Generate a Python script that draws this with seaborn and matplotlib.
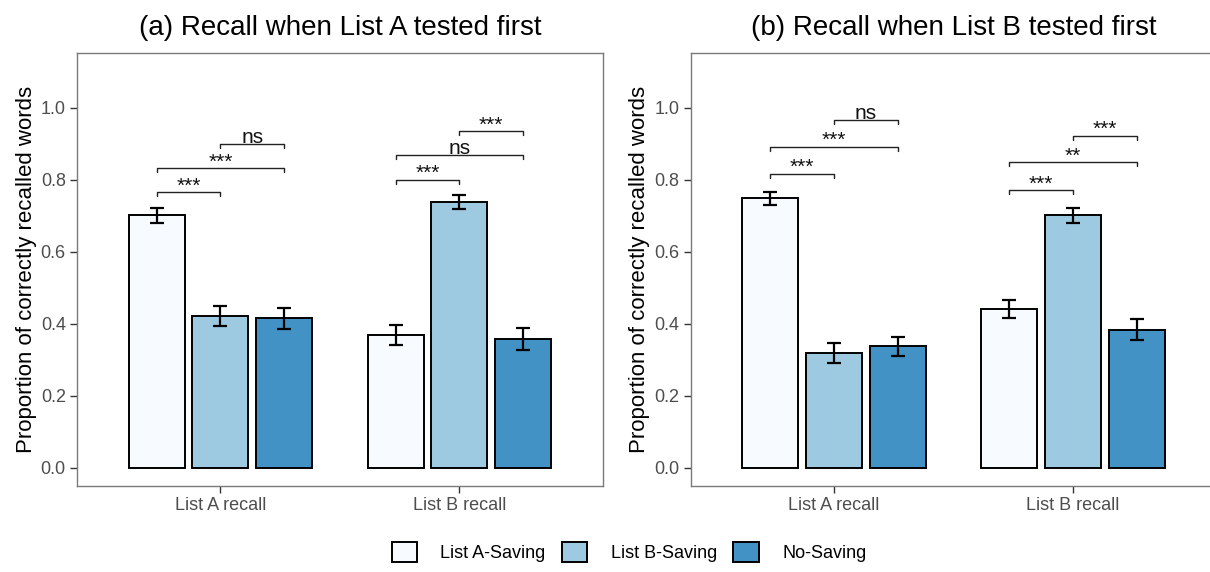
import matplotlib
matplotlib.use("Agg")
import matplotlib.pyplot as plt
import matplotlib.patches as mpatches
import numpy as np
import pandas as pd
import seaborn as sns

# categories
recall_types = ["List A recall", "List B recall"]
groups = ["List A-Saving", "List B-Saving", "No-Saving"]
colors = ["#F7FBFF", "#9ECAE1", "#4292C6"]

# (a) List A tested first: order = recall type x group
a_mean = [0.701, 0.422, 0.415, 0.369, 0.739, 0.357]
a_se = [0.020, 0.028, 0.030, 0.027, 0.020, 0.030]
# (b) List B tested first
b_mean = [0.748, 0.318, 0.337, 0.441, 0.701, 0.384]
b_se = [0.019, 0.028, 0.027, 0.026, 0.021, 0.028]

# significance brackets: (recall index, bar i, bar j, height, label)
a_sig = [(0, 0, 1, 0.765, "***"), (0, 0, 2, 0.832, "***"), (0, 1, 2, 0.899, "ns"),
         (1, 0, 1, 0.800, "***"), (1, 0, 2, 0.869, "ns"), (1, 1, 2, 0.934, "***")]
b_sig = [(0, 0, 1, 0.816, "***"), (0, 0, 2, 0.892, "***"), (0, 1, 2, 0.967, "ns"),
         (1, 0, 1, 0.771, "***"), (1, 0, 2, 0.848, "**"), (1, 1, 2, 0.922, "***")]

sns.set_style("white")
plt.rcParams['font.family'] = ['Liberation Sans', 'DejaVu Sans']
plt.rcParams['text.color'] = 'black'
plt.rcParams['axes.labelcolor'] = 'black'

fig = plt.figure(figsize=(12.1, 5.72), dpi=100)
ax_a = fig.add_axes([0.0636, 0.150, 0.4345, 0.758])
ax_b = fig.add_axes([0.5708, 0.150, 0.4345, 0.758])


def draw_panel(ax, means, ses, sig, title):
    df = pd.DataFrame({'recall': np.repeat(recall_types, len(groups)),
                       'group': groups * len(recall_types),
                       'prop': means, 'se': ses})
    sns.barplot(data=df, x='recall', y='prop', hue='group', hue_order=groups,
                palette=colors, saturation=1, width=0.8, gap=0.12, edgecolor='black',
                linewidth=1.4, errorbar=None, legend=False, ax=ax)

    # bar centres from the drawn bars
    centres = {}
    for gi, cont in enumerate(ax.containers):
        for ri, bar in enumerate(cont):
            centres[(ri, gi)] = bar.get_x() + bar.get_width() / 2
    xs = [centres[(ri, gi)] for ri in range(len(recall_types)) for gi in range(len(groups))]
    ax.errorbar(xs, df['prop'], yerr=df['se'], fmt='none', ecolor='black',
                elinewidth=1.6, capsize=5, capthick=1.6, zorder=5)

    # significance brackets
    tip = 0.011
    for ri, i, j, h, lab in sig:
        x1, x2 = centres[(ri, i)], centres[(ri, j)]
        ax.plot([x1, x1, x2, x2], [h - tip, h, h, h - tip], color='#222222', lw=1.0)
        ax.text((x1 + x2) / 2, h + 0.002, lab, ha='center', va='baseline',
                fontsize=15, color='#111111')

    ax.set_xlim(-0.6, 1.6)
    ax.set_ylim(-0.051, 1.153)
    ax.set_yticks([0.0, 0.2, 0.4, 0.6, 0.8, 1.0])
    ax.set_yticklabels(['0.0', '0.2', '0.4', '0.6', '0.8', '1.0'])
    ax.set_xlabel(None)
    ax.set_ylabel('Proportion of correctly recalled words', fontsize=16, labelpad=3)
    ax.set_title(title, fontsize=20, pad=13, color='black')
    ax.tick_params(axis='both', labelsize=13, labelcolor='#4d4d4d', color='#333333',
                   length=5, width=1.0, pad=3, bottom=True, left=True)
    for sp in ax.spines.values():
        sp.set_color('#7a7a7a')
        sp.set_linewidth(1.0)


draw_panel(ax_a, a_mean, a_se, a_sig, '(a) Recall when List A tested first')
draw_panel(ax_b, b_mean, b_se, b_sig, '(b) Recall when List B tested first')

handles = [mpatches.Patch(facecolor=c, edgecolor='black', linewidth=1.4) for c in colors]
fig.legend(handles, groups, loc='center', bbox_to_anchor=(629 / 1210, 1 - 552 / 572),
           ncol=3, frameon=False, fontsize=13, handlelength=1.4, handleheight=1.4,
           handletextpad=1.3, columnspacing=0.9)

fig.savefig('out.png', dpi=100)
